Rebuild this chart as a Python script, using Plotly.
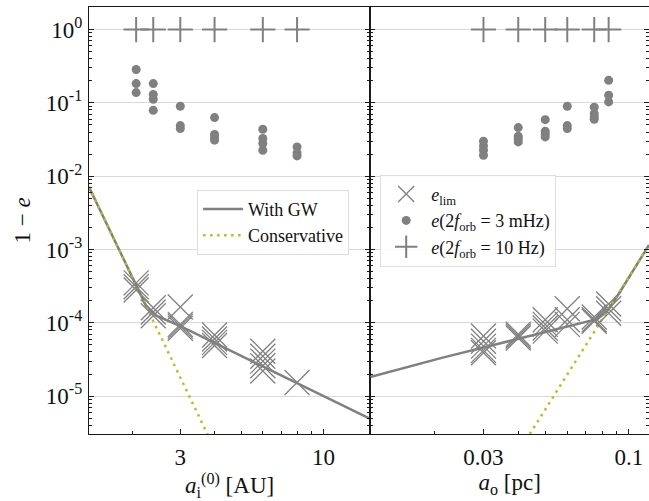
import numpy as np
import plotly.graph_objects as go
from plotly.subplots import make_subplots

# ---------------- data ----------------
# Left panel: inner semi-major axis a_i^(0) [AU]
ai_groups = [2.07, 2.39, 3.0, 4.0, 6.0, 8.0]
ai_dots = [[0.285, 0.183, 0.138],
           [0.183, 0.130, 0.112, 0.079],
           [0.090, 0.049, 0.0446],
           [0.063, 0.037, 0.034, 0.031],
           [0.0436, 0.0326, 0.0279, 0.0226],
           [0.025, 0.0207, 0.0189]]
ai_plus = [1.0, 1.0, 1.0, 1.0, 1.0, 1.0]
ai_elim = [[3.5e-4, 3.1e-4, 2.8e-4],
           [1.6e-4, 1.4e-4, 1.25e-4],
           [1.64e-4, 9.5e-5, 9.0e-5, 8.4e-5],
           [6.8e-5, 6.0e-5, 5.4e-5, 4.9e-5],
           [4.1e-5, 3.5e-5, 3.0e-5, 2.6e-5, 2.2e-5],
           [1.53e-5]]
gw_left_x = [1.393, 2.07, 2.25, 2.45, 3.0, 14.8]
gw_left_y = [7.1e-3, 3.2e-4, 1.7e-4, 1.25e-4, 9.0e-5, 4.9e-6]
cons_left_x = [1.393, 3.0, 3.8]
cons_left_y = [7.1e-3, 1.73e-5, 2.84e-6]

# Right panel: outer semi-major axis a_o [pc]
ao_groups = [0.03, 0.04, 0.05, 0.06, 0.075, 0.0845]
ao_dots = [[0.030, 0.0258, 0.0226, 0.0193],
           [0.046, 0.035, 0.032, 0.0293],
           [0.059, 0.041, 0.037, 0.0343],
           [0.090, 0.049, 0.0446],
           [0.087, 0.0714, 0.065, 0.0598],
           [0.203, 0.127, 0.103]]
ao_plus = [1.0, 1.0, 1.0, 1.0, 1.0, 1.0]
ao_elim = [[6.6e-5, 5.6e-5, 4.8e-5, 4.2e-5, 3.9e-5],
           [7.0e-5, 6.6e-5, 6.2e-5],
           [1.1e-4, 9.5e-5, 8.5e-5, 7.7e-5],
           [1.55e-4, 1.1e-4, 9.5e-5],
           [1.2e-4, 1.1e-4, 1.05e-4],
           [1.8e-4, 1.55e-4, 1.35e-4]]
gw_right_x = [0.01176, 0.0214, 0.03, 0.0766, 0.083, 0.0904, 0.118]
gw_right_y = [1.82e-5, 3.35e-5, 4.6e-5, 1.12e-4, 1.4e-4, 2.25e-4, 1.15e-3]
cons_right_x = [0.044, 0.0904, 0.118]
cons_right_y = [3.04e-6, 2.25e-4, 1.15e-3]

# axis extents and shaded regions
x_left_range = (1.393, 14.8)
x_right_range = (0.01176, 0.118)
y_range = (3.04e-6, 2.03)
shade_left = (8.29, 14.8)
shade_right = (0.01176, 0.0214)

y_tickvals = [1e-5, 1e-4, 1e-3, 1e-2, 1e-1, 1.0]
y_ticktext = ["10<sup>-5</sup>", "10<sup>-4</sup>", "10<sup>-3</sup>",
              "10<sup>-2</sup>", "10<sup>-1</sup>", "10<sup>0</sup>"]

# ---------------- styling ----------------
GRAY = "#808080"
OLIVE = "#bcbd22"
AXC = "#1a1a1a"
FONT = "'Liberation Serif', 'DejaVu Serif', serif"


def flat(groups, vals):
    xs, ys = [], []
    for g, vv in zip(groups, vals):
        for v in vv:
            xs.append(g)
            ys.append(v)
    return xs, ys


fig = make_subplots(rows=1, cols=2, shared_yaxes=True, horizontal_spacing=0)

for col, groups, dots, plus, elim, gx, gy, cx, cy in [
    (1, ai_groups, ai_dots, ai_plus, ai_elim, gw_left_x, gw_left_y, cons_left_x, cons_left_y),
    (2, ao_groups, ao_dots, ao_plus, ao_elim, gw_right_x, gw_right_y, cons_right_x, cons_right_y),
]:
    first = col == 1
    fig.add_trace(go.Scatter(x=gx, y=gy, mode="lines", name="With GW",
                             line=dict(color=GRAY, width=2.5),
                             showlegend=first, legend="legend"), row=1, col=col)
    fig.add_trace(go.Scatter(x=cx, y=cy, mode="lines", name="Conservative",
                             line=dict(color=OLIVE, width=2.5, dash="2.5px,4.5px"),
                             showlegend=first, legend="legend"), row=1, col=col)
    ex, ey = flat(groups, elim)
    fig.add_trace(go.Scatter(x=ex, y=ey, mode="markers", name="<i>e</i><sub>lim</sub>",
                             marker=dict(symbol="x-thin", size=25, color=GRAY,
                                         line=dict(color=GRAY, width=1.3)),
                             showlegend=not first, legend="legend2"), row=1, col=col)
    dx, dy = flat(groups, dots)
    fig.add_trace(go.Scatter(x=dx, y=dy, mode="markers",
                             name="<i>e</i>(2<i>f</i><sub>orb</sub> = 3 mHz)",
                             marker=dict(symbol="circle", size=9, color=GRAY),
                             showlegend=not first, legend="legend2"), row=1, col=col)
    fig.add_trace(go.Scatter(x=groups, y=plus, mode="markers",
                             name="<i>e</i>(2<i>f</i><sub>orb</sub> = 10 Hz)",
                             marker=dict(symbol="cross-thin", size=18, color=GRAY,
                                         line=dict(color=GRAY, width=2)),
                             showlegend=not first, legend="legend2"), row=1, col=col)

# shaded regions (below grid) and vertical major gridlines
L = np.log10
fig.add_shape(type="rect", xref="x", yref="y domain", x0=L(shade_left[0]), x1=L(shade_left[1]),
              y0=0, y1=1, fillcolor="rgba(23,190,207,0.11)", line_width=0, layer="below")
fig.add_shape(type="rect", xref="x2", yref="y2 domain", x0=L(shade_right[0]), x1=L(shade_right[1]),
              y0=0, y1=1, fillcolor="rgba(23,190,207,0.11)", line_width=0, layer="below")
fig.add_shape(type="line", xref="x", yref="y domain", x0=1, x1=1, y0=0, y1=1,
              line=dict(color="#d9d9d9", width=1), layer="below")
fig.add_shape(type="line", xref="x2", yref="y2 domain", x0=-1, x1=-1, y0=0, y1=1,
              line=dict(color="#d9d9d9", width=1), layer="below")

tickfont = dict(family=FONT, size=23, color="#111")
titlefont = dict(family=FONT, size=23, color="#111")

minor_left = [2, 4, 5, 6, 7, 8, 9, 20]
minor_right = [0.02, 0.04, 0.05, 0.06, 0.07, 0.08, 0.09, 0.2]
minor_y = [k * 10.0 ** e for e in range(-6, 1) for k in range(2, 10)]

common_x = dict(type="log", showgrid=False, ticks="inside", ticklen=5, tickwidth=1,
                tickcolor=AXC, showline=True, linecolor=AXC, linewidth=1.3, mirror=True,
                tickfont=tickfont, zeroline=False, ticklabelstandoff=2)
fig.update_xaxes(domain=[0, 0.5023], range=[L(x_left_range[0]), L(x_left_range[1])],
                 tickvals=[3, 10], ticktext=["3", "10"],
                 minor=dict(tickvals=minor_left, ticks="inside", ticklen=3, tickcolor=AXC, showgrid=False),
                 title=dict(text="<i>a</i><sub>i</sub><sup>(0)</sup> [AU]", font=titlefont, standoff=0),
                 row=1, col=1, **common_x)
fig.update_xaxes(domain=[0.5023, 1], range=[L(x_right_range[0]), L(x_right_range[1])],
                 tickvals=[0.03, 0.1], ticktext=["0.03", "0.1"],
                 minor=dict(tickvals=minor_right, ticks="inside", ticklen=3, tickcolor=AXC, showgrid=False),
                 title=dict(text="<i>a</i><sub>o</sub> [pc]", font=titlefont, standoff=0),
                 row=1, col=2, **common_x)

common_y = dict(type="log", range=[L(y_range[0]), L(y_range[1])], tickvals=y_tickvals,
                showgrid=True, gridcolor="#d9d9d9", gridwidth=1, ticks="inside", ticklen=5,
                tickcolor=AXC, showline=True, linecolor=AXC, linewidth=1.3, mirror="ticks",
                zeroline=False,
                minor=dict(tickvals=minor_y, ticks="inside", ticklen=3, tickcolor=AXC, showgrid=False))
fig.update_yaxes(ticktext=y_ticktext, tickfont=tickfont, ticklabelstandoff=1,
                 title=dict(text="1 − <i>e</i>", font=titlefont, standoff=8),
                 row=1, col=1, **common_y)
fig.update_yaxes(showticklabels=False, row=1, col=2, **common_y)

legend_style = dict(bgcolor="rgba(255,255,255,0.85)", bordercolor="#dddddd", borderwidth=1,
                    font=dict(family=FONT, size=18, color="#111"), tracegroupgap=0,
                    xanchor="left", yanchor="top", itemsizing="trace", itemwidth=40)
fig.update_layout(
    width=649, height=501,
    margin=dict(l=89, r=0, t=7, b=67, autoexpand=False),
    plot_bgcolor="white", paper_bgcolor="white",
    font=dict(family=FONT),
    legend=dict(x=0.193, y=0.572, **legend_style),
    legend2=dict(x=0.52, y=0.607, **legend_style),
)

fig.write_html("out.html")
